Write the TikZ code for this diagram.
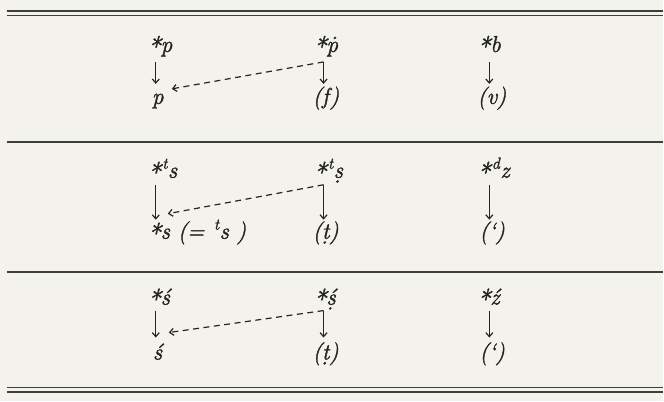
\documentclass[tikz,border=0pt]{standalone}
\usepackage{fontspec}
\usepackage{graphicx}
\usepackage{tikz}
\usetikzlibrary{arrows.meta,calc}
\newfontfamily\formfont{Latin Modern Roman}[FakeBold=1.6]
\definecolor{paper}{HTML}{F3F2EC}
\definecolor{ink}{HTML}{252523}
\definecolor{rulecol}{HTML}{3C403C}
% dot below / dot above, starred form
\newcommand\udot[1]{\oalign{#1\crcr\hidewidth\kern-0.1em.\hidewidth}}
\newcommand\adot[1]{\ooalign{#1\cr\hidewidth\kern0.2em\raisebox{0.56em}{.}\hidewidth\cr}}
\newcommand\supx[1]{\kern1.5pt\textsuperscript{#1}}
\newcommand\rec{\raisebox{-0.2em}{\scalebox{1.2}{*}}}

\begin{document}
\begin{tikzpicture}[x=1pt,y=-1pt,
  form/.style={inner sep=0pt,anchor=base west,text=ink,
    font=\formfont\fontsize{23}{27}\selectfont\itshape},
  dn/.style={draw=ink,line width=1.2pt,-{Straight Barb[length=4pt,width=7pt]}},
  back/.style={draw=ink,line width=1.2pt,dash pattern=on 6pt off 4.5pt,
    -{Straight Barb[length=4pt,width=7pt]}},
  hrule/.style={draw=rulecol,line width=1.8pt}]
 \fill[paper] (0,0) rectangle (664,402);
 % rules
 \draw[hrule] (7,11) -- (664,11);
 \draw[hrule] (7,15.5) -- (664,15.5);
 \draw[hrule] (7,142) -- (664,142);
 \draw[hrule] (7,272) -- (664,272);
 \draw[hrule] (7,388) -- (664,388);
 \draw[hrule] (7,392.5) -- (664,392.5);
 % columns
 \coordinate (C1) at (156,0);
 \coordinate (C2) at (324,0);
 \coordinate (C3) at (490,0);
 % row 1
 \node[form] (T11) at (147,52) {\rec p};
 \node[form] (T12) at (313,52) {\rec\adot{p}};
 \node[form] (T13) at (477,52) {\rec b};
 \node[form] (B11) at (152,104) {p};
 \node[form] (B12) at (313,104) {(f)};
 \node[form] (B13) at (478,104) {(v)};
 \coordinate (S12) at ($(T12.base -| C2)+(0,10)$);
 \draw[dn] ($(T11.base -| C1)+(0,10)$) -- ($(B11.base -| C1)+(0,-20)$);
 \draw[dn] (S12) -- ($(B12.base -| C2)+(0,-20)$);
 \draw[dn] ($(T13.base -| C3)+(0,10)$) -- ($(B13.base -| C3)+(0,-20)$);
 \draw[back] (S12) -- ($(B11.base -| C1)+(16,-15)$);
 % row 2
 \node[form] (T21) at (147,178) {\rec\supx{t}s};
 \node[form] (T22) at (313,178) {\rec\supx{t}\udot{s}};
 \node[form] (T23) at (477,178) {\rec\supx{d}z};
 \node[form] (B21) at (147,239) {\rec s (= \supx{t}s )};
 \node[form] (B22) at (313,239) {(\udot{t})};
 \node[form] (B23) at (480,239) {(\textquoteleft)};
 \coordinate (S22) at ($(T22.base -| C2)+(0,7)$);
 \draw[dn] ($(T21.base -| C1)+(0,7)$) -- ($(B21.base -| C1)+(0,-19)$);
 \draw[dn] (S22) -- ($(B22.base -| C2)+(0,-19)$);
 \draw[dn] ($(T23.base -| C3)+(0,7)$) -- ($(B23.base -| C3)+(0,-19)$);
 \draw[back] (S22) -- ($(B21.base -| C1)+(12,-25)$);
 % row 3
 \node[form] (T31) at (147,305) {\rec ś};
 \node[form] (T32) at (313,305) {\rec\udot{ś}};
 \node[form] (T33) at (477,305) {\rec ź};
 \node[form] (B31) at (153,360) {ś};
 \node[form] (B32) at (313,360) {(\udot{t})};
 \node[form] (B33) at (480,360) {(\textquoteleft)};
 \coordinate (S32) at ($(T32.base -| C2)+(0,6)$);
 \draw[dn] ($(T31.base -| C1)+(0,6)$) -- ($(B31.base -| C1)+(0,-22)$);
 \draw[dn] (S32) -- ($(B32.base -| C2)+(0,-22)$);
 \draw[dn] ($(T33.base -| C3)+(0,6)$) -- ($(B33.base -| C3)+(0,-22)$);
 \draw[back] (S32) -- ($(B31.base -| C1)+(13,-27)$);
\end{tikzpicture}
\end{document}
